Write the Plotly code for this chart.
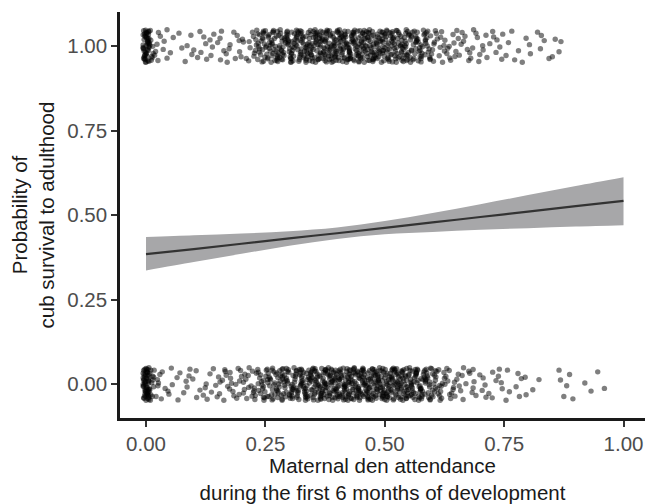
import plotly.graph_objects as go

# ---------------- data ----------------
# Number of cubs per 0.01-wide bin of maternal den attendance (bin k -> x = k/100)
bin_width = 0.01
survived_counts = [
    44, 11, 4, 3, 2, 2, 1, 2, 1, 2,      # 0.00-0.09
    2, 2, 3, 2, 3, 2, 3, 3, 2, 3,        # 0.10-0.19
    3, 3, 4, 8, 11, 12, 12, 13, 14, 13,  # 0.20-0.29
    14, 15, 14, 15, 15, 16, 16, 16, 17, 16,  # 0.30-0.39
    17, 16, 17, 16, 16, 17, 16, 16, 15, 15,  # 0.40-0.49
    15, 15, 14, 13, 14, 13, 12, 12, 10, 10,  # 0.50-0.59
    7, 5, 4, 5, 4, 4, 3, 4, 3, 3,        # 0.60-0.69
    3, 2, 3, 2, 3, 2, 1, 2, 1, 2,        # 0.70-0.79
    1, 1, 2, 1, 2, 1, 2, 1, 0, 0,        # 0.80-0.89
    0, 0, 0, 0, 0, 0, 0, 0,              # 0.90-0.97
]
died_counts = [
    50, 13, 5, 3, 3, 2, 2, 2, 2, 3,      # 0.00-0.09
    2, 2, 2, 3, 2, 4, 4, 4, 5, 4,        # 0.10-0.19
    5, 5, 6, 7, 9, 10, 10, 12, 12, 13,   # 0.20-0.29
    13, 13, 14, 14, 16, 16, 16, 17, 17, 17,  # 0.30-0.39
    18, 17, 18, 18, 17, 18, 18, 17, 18, 18,  # 0.40-0.49
    17, 18, 17, 17, 16, 16, 15, 14, 14, 13,  # 0.50-0.59
    11, 9, 7, 5, 5, 4, 4, 3, 3, 3,       # 0.60-0.69
    2, 3, 2, 2, 3, 2, 2, 1, 2, 2,        # 0.70-0.79
    1, 1, 1, 0, 0, 0, 0, 3, 1, 2,        # 0.80-0.89
    0, 0, 1, 1, 0, 1, 1, 0,              # 0.90-0.97
]

# Fitted logistic curve with 95% CI
fit_x = [0.0, 0.1, 0.2, 0.3, 0.4, 0.5, 0.6, 0.7, 0.8, 0.9, 1.0]
fit_p = [0.384, 0.399, 0.415, 0.431, 0.446, 0.462, 0.478, 0.494, 0.510, 0.526, 0.542]
fit_lo = [0.336, 0.361, 0.385, 0.409, 0.429, 0.443, 0.450, 0.456, 0.461, 0.466, 0.470]
fit_hi = [0.435, 0.440, 0.445, 0.452, 0.463, 0.482, 0.506, 0.532, 0.559, 0.586, 0.612]

tick_vals = [0.0, 0.25, 0.5, 0.75, 1.0]
tick_text = ["0.00", "0.25", "0.50", "0.75", "1.00"]

# fixed jitter pattern (stands in for geom_jitter), in thousandths
jitter_x_pattern = [3, -5, 0, 6, -2, 4, -6, 1, -3, 5, -1, 2, -4, 6, -6,
                    0, 3, -2, 5, -5, 1, -3, 4, -1, 2, -4, 0, 6, -2]
jitter_y_pattern = [12, -37, 41, -5, 28, -44, 3, -21, 36, -13, 47, -30, 19, -2, 33,
                    -47, 8, -26, 44, -9, 24, -40, 15, -18, 39, -33, 0, -45, 30, -11,
                    45, -24, 6, -38, 21, -4, 37, -29, 11, -48, 26, -15, 42, -7, 17,
                    -35, 2, -22, 34, -42, 9, -1, 46, -31, 22, -16, 40, -27, 5, -43,
                    29, -10, 14, -36, 48, -20, 25, -6, 38, -46, 1, -25, 32, -12, 43,
                    -34, 7, -19, 27, -39, 18, -3, 35, -28, 10, -41, 44, -14, 23, -48,
                    4, -23, 41, -8, 31, -37, 16, -32, 20, -17, 13]


def expand(counts, outcome, shift):
    xs, ys = [], []
    i = 0
    for k, c in enumerate(counts):
        for _ in range(c):
            xs.append(k * bin_width + jitter_x_pattern[i % len(jitter_x_pattern)] / 1000)
            ys.append(outcome + jitter_y_pattern[(i + shift) % len(jitter_y_pattern)] / 1000)
            i += 1
    return xs, ys


dx, dy = expand(died_counts, 0, 37)
sx, sy = expand(survived_counts, 1, 0)

FONT = "Liberation Sans, Arial, Helvetica, sans-serif"
marker = dict(color="black", opacity=0.5, size=5.4, line=dict(width=0))

fig = go.Figure()
fig.add_trace(go.Scatter(x=dx, y=dy, mode="markers", marker=marker,
                         hoverinfo="skip", showlegend=False))
fig.add_trace(go.Scatter(x=sx, y=sy, mode="markers", marker=marker,
                         hoverinfo="skip", showlegend=False))
fig.add_trace(go.Scatter(x=fit_x, y=fit_lo, mode="lines", line=dict(width=0, shape="spline"),
                         hoverinfo="skip", showlegend=False))
fig.add_trace(go.Scatter(x=fit_x, y=fit_hi, mode="lines", line=dict(width=0, shape="spline"),
                         fill="tonexty", fillcolor="#a7a7a9",
                         hoverinfo="skip", showlegend=False))
fig.add_trace(go.Scatter(x=fit_x, y=fit_p, mode="lines",
                         line=dict(color="#333333", width=2.2, shape="spline"),
                         hoverinfo="skip", showlegend=False))

axis_common = dict(
    showgrid=False, zeroline=False, showline=True, linecolor="#1a1a1a", linewidth=2.5,
    ticks="outside", ticklen=6, tickwidth=2, tickcolor="#333333",
    tickfont=dict(family=FONT, size=20.5, color="#4d4d4d"),
    tickvals=tick_vals, ticktext=tick_text, automargin=False,
)

fig.update_layout(
    width=655, height=504,
    margin=dict(l=120, r=10, t=12, b=86),
    paper_bgcolor="white", plot_bgcolor="white",
    font=dict(family=FONT),
    xaxis=dict(range=[-0.0545, 1.045],
               title=dict(text="Maternal den attendance<br>during the first 6 months of development",
                          font=dict(family=FONT, size=20.5, color="#1a1a1a"), standoff=10),
               **axis_common),
    yaxis=dict(range=[-0.1006, 1.1006],
               title=dict(text="Probability of<br>cub survival to adulthood",
                          font=dict(family=FONT, size=20.5, color="#1a1a1a"), standoff=8),
               **axis_common),
)

fig.write_html("out.html")
